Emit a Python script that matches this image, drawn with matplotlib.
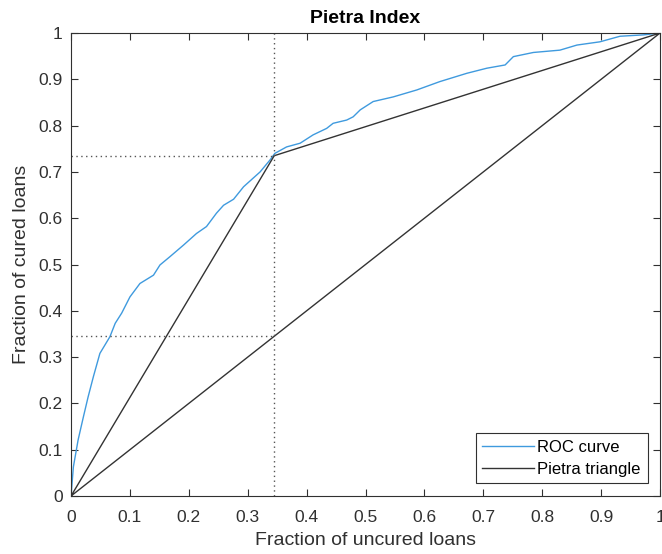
import numpy as np
import matplotlib
matplotlib.use("Agg")
import matplotlib.pyplot as plt
from matplotlib.ticker import FuncFormatter

plt.rcParams['font.family'] = ['Liberation Sans', 'DejaVu Sans']

# ROC curve
roc_x = [0.0, 0.004, 0.012, 0.021, 0.029, 0.038, 0.049, 0.066, 0.075, 0.086,
         0.100, 0.117, 0.140, 0.151, 0.168, 0.191, 0.213, 0.230, 0.247, 0.259,
         0.276, 0.293, 0.321, 0.338, 0.346, 0.366, 0.389, 0.411, 0.434, 0.445,
         0.468, 0.479, 0.491, 0.513, 0.547, 0.587, 0.626, 0.672, 0.706, 0.737,
         0.751, 0.785, 0.830, 0.859, 0.898, 0.932, 0.972, 1.0]
roc_y = [0.0, 0.063, 0.121, 0.171, 0.214, 0.258, 0.308, 0.344, 0.373, 0.395,
         0.430, 0.459, 0.477, 0.499, 0.517, 0.542, 0.567, 0.582, 0.611, 0.628,
         0.641, 0.668, 0.700, 0.726, 0.740, 0.754, 0.762, 0.780, 0.794, 0.805,
         0.812, 0.819, 0.834, 0.852, 0.862, 0.877, 0.895, 0.913, 0.924, 0.931,
         0.949, 0.958, 0.963, 0.974, 0.981, 0.993, 0.996, 1.0]

# Pietra triangle vertex (max distance point)
kx = 0.345
ky = 0.735
tri_x = [0, kx, 1, 0]
tri_y = [0, ky, 1, 0]

fig = plt.figure(figsize=(6.62, 5.54), dpi=100)
ax = fig.add_axes([0.1073, 0.1047, 0.8897, 0.8357])

ax.plot(roc_x, roc_y, color='#3f9ade', lw=1.0, label='ROC curve')
ax.plot(tri_x, tri_y, color='#333333', lw=1.0, label='Pietra triangle')
ax.plot([kx, kx], [0, 1], color='#555555', lw=1.0, ls=(0, (1, 2.5)))
ax.plot([0, kx], [ky, ky], color='#555555', lw=1.0, ls=(0, (1, 2.5)))
ax.plot([0, kx], [kx, kx], color='#555555', lw=1.0, ls=(0, (1, 2.5)))

ax.set_xlim(0, 1)
ax.set_ylim(0, 1)
ticks = np.arange(0, 1.01, 0.1)
fmt = FuncFormatter(lambda v, p: '%g' % round(v, 1))
ax.set_xticks(ticks)
ax.set_yticks(ticks)
ax.xaxis.set_major_formatter(fmt)
ax.yaxis.set_major_formatter(fmt)
ax.tick_params(direction='in', top=True, right=True, length=5,
               labelsize=12.5, colors='#303030', width=0.8)
ax.tick_params(axis='x', pad=10)
ax.tick_params(axis='y', pad=6)
for s in ax.spines.values():
    s.set_color('#303030')
    s.set_linewidth(0.8)

ax.set_title('Pietra Index', fontsize=14, fontweight='bold', pad=7)
ax.set_xlabel('Fraction of uncured loans', fontsize=14, color='#303030', labelpad=5)
ax.set_ylabel('Fraction of cured loans', fontsize=14, color='#303030', labelpad=6)

leg = ax.legend(loc='lower right', fontsize=12, fancybox=False,
                edgecolor='#303030', framealpha=1, handlelength=3.1,
                borderpad=0.4, labelspacing=0.4, handletextpad=0.2,
                borderaxespad=0.75)
leg.get_frame().set_linewidth(0.8)

fig.savefig('out.png', dpi=100)
